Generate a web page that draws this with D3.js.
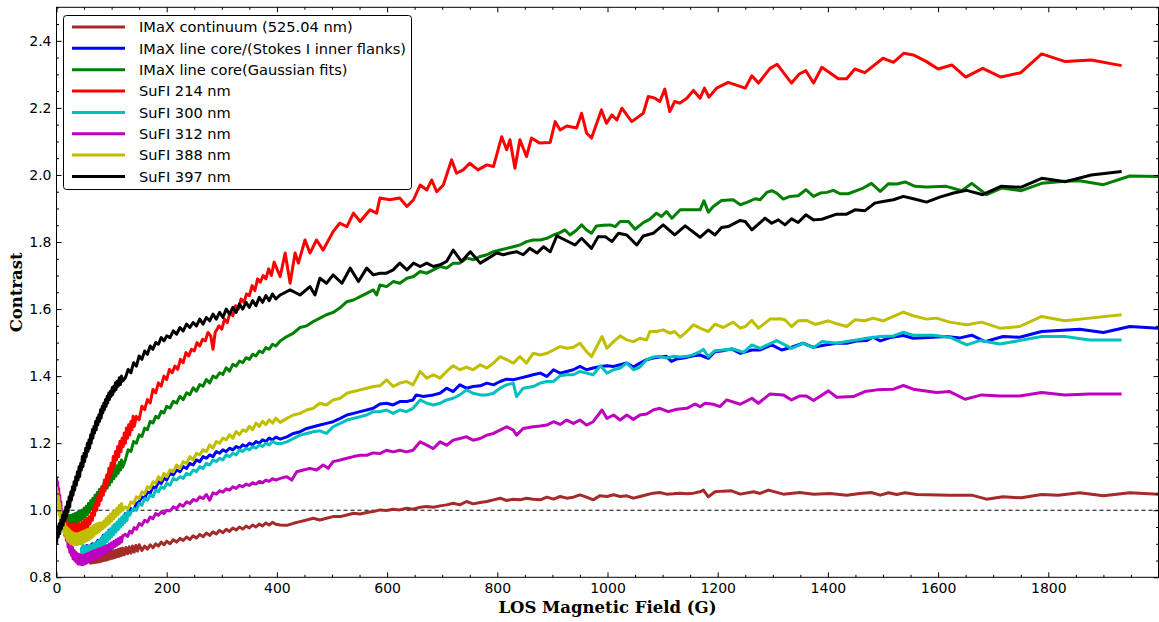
<!DOCTYPE html>
<html>
<head>
<meta charset="utf-8">
<script src="https://cdn.jsdelivr.net/npm/d3@7"></script>
<style>
  body { margin: 0; background: #fff; }
  svg { display: block; }
  .tick line { stroke: #000; stroke-width: 1; }
</style>
</head>
<body>
<script>
// [LOS field (G), contrast]
const continuum = [
  [60,0.865],[62,0.842],[64,0.865],[66,0.843],[68,0.866],[70,0.844],[72,0.867],[74,0.845],[76,0.868],[78,0.846],
  [80,0.869],[82,0.848],[84,0.87],[86,0.85],[88,0.872],[90,0.851],[92,0.873],[94,0.853],[96,0.875],[98,0.855],
  [100,0.877],[102,0.857],[104,0.879],[106,0.859],[108,0.881],[110,0.861],[112,0.883],[114,0.863],[116,0.885],[118,0.865],
  [120,0.887],[123,0.867],[126,0.889],[129,0.87],[132,0.891],[135,0.872],[138,0.893],[141,0.875],[144,0.895],[147,0.878],
  [150,0.897],[155,0.88],[160,0.893],[165,0.884],[170,0.897],[175,0.888],[180,0.90],[185,0.893],[190,0.905],[195,0.897],
  [200,0.908],[206,0.90],[212,0.912],[218,0.905],[224,0.916],[230,0.91],[236,0.92],[242,0.913],[248,0.924],[254,0.917],
  [260,0.928],[266,0.921],[272,0.932],[278,0.925],[284,0.936],[290,0.929],[296,0.94],[302,0.933],[308,0.943],[314,0.937],
  [320,0.947],[326,0.941],[332,0.95],[338,0.944],[344,0.953],[350,0.947],[356,0.956],[362,0.95],[368,0.959],[374,0.953],
  [380,0.962],[386,0.956],[392,0.964],[398,0.958],
  [406,0.956],[418,0.955],[430,0.961],[442,0.966],[454,0.971],[466,0.976],[478,0.971],[490,0.976],[502,0.981],[515,0.981],
  [527,0.986],[539,0.991],[551,0.989],[563,0.993],[575,0.996],[587,1.001],[599,0.999],[611,1.003],[623,1.001],[635,1.006],
  [647,1.003],[660,1.009],[672,1.011],[684,1.009],[696,1.013],[708,1.016],[720,1.021],[732,1.016],[744,1.026],[756,1.019],
  [769,1.023],[781,1.026],[793,1.031],[805,1.036],[817,1.029],[829,1.033],[841,1.031],[853,1.036],[865,1.033],[878,1.031],
  [890,1.039],[902,1.033],[914,1.041],[926,1.036],[938,1.039],[950,1.046],[962,1.039],[974,1.031],[986,1.043],[999,1.041],
  [1011,1.046],[1023,1.041],[1035,1.043],[1047,1.036],[1059,1.041],[1071,1.046],[1083,1.051],[1095,1.053],[1107,1.048],[1119,1.049],
  [1132,1.051],[1144,1.049],[1156,1.051],[1168,1.055],[1174,1.060],[1183,1.040],[1195,1.055],[1210,1.057],[1225,1.058],[1241,1.048],
  [1265,1.055],[1277,1.050],[1292,1.060],[1319,1.048],[1349,1.053],[1374,1.048],[1404,1.050],[1434,1.045],[1458,1.050],[1479,1.053],
  [1495,1.045],[1510,1.052],[1525,1.047],[1540,1.052],[1561,1.047],[1621,1.045],[1661,1.045],[1688,1.033],[1718,1.040],[1751,1.037],
  [1788,1.047],[1818,1.045],[1857,1.052],[1900,1.043],[1948,1.052],[2000,1.048]
];

const lineCoreStokes = [
  [45,0.89],[50,0.885],[55,0.895],[60,0.89],[65,0.90],[70,0.895],[75,0.91],[80,0.905],[85,0.925],[90,0.92],
  [95,0.94],[100,0.935],[105,0.955],[110,0.95],[115,0.97],[120,0.975],[125,0.99],[130,0.985],[135,1.005],[140,1.0],
  [145,1.02],[150,1.025],[155,1.04],[160,1.035],[165,1.055],[170,1.05],[175,1.07],[180,1.065],[185,1.085],[190,1.08],
  [195,1.095],[200,1.09],[206,1.11],[212,1.105],[218,1.12],[224,1.115],[230,1.13],[236,1.125],[242,1.14],[248,1.135],
  [254,1.15],[260,1.145],[266,1.16],[272,1.155],[278,1.165],[284,1.16],[290,1.175],[296,1.17],[302,1.18],[308,1.175],
  [314,1.185],[320,1.18],[326,1.19],[332,1.185],[338,1.195],[344,1.19],[350,1.2],[356,1.195],[362,1.205],[368,1.2],
  [374,1.21],[380,1.205],[386,1.215],[392,1.21],[398,1.218],
  [406,1.212],[418,1.219],[430,1.229],[442,1.234],[454,1.244],[466,1.249],[478,1.254],[490,1.259],[502,1.264],[515,1.274],
  [527,1.284],[539,1.289],[551,1.294],[563,1.299],[575,1.304],[587,1.317],[599,1.319],[611,1.314],[623,1.324],[635,1.324],
  [647,1.329],[653,1.344],[666,1.339],[684,1.344],[696,1.349],[708,1.364],[720,1.354],[732,1.374],[744,1.364],[756,1.369],
  [769,1.371],[781,1.379],[793,1.374],[805,1.384],[817,1.391],[829,1.389],[841,1.394],[853,1.399],[865,1.404],[878,1.409],
  [890,1.399],[902,1.419],[914,1.409],[926,1.414],[938,1.419],[950,1.429],[962,1.419],[974,1.424],[987,1.429],[999,1.431],
  [1011,1.429],[1023,1.434],[1035,1.439],[1047,1.427],[1059,1.439],[1071,1.449],[1083,1.454],[1095,1.457],[1107,1.459],[1116,1.444],
  [1125,1.451],[1138,1.454],[1156,1.461],[1168,1.463],[1183,1.453],[1195,1.473],[1210,1.476],[1225,1.481],[1241,1.468],[1262,1.478],
  [1277,1.478],[1298,1.493],[1316,1.478],[1334,1.486],[1355,1.498],[1374,1.486],[1395,1.493],[1416,1.498],[1434,1.498],[1452,1.505],
  [1470,1.506],[1482,1.516],[1495,1.505],[1513,1.515],[1537,1.521],[1555,1.513],[1591,1.516],[1615,1.518],[1640,1.514],[1661,1.522],
  [1685,1.503],[1718,1.518],[1748,1.516],[1788,1.533],[1857,1.540],[1900,1.530],[1948,1.548],[2000,1.543]
];

const lineCoreGauss = [
  [18,0.985],[20,0.96],[22,0.985],[24,0.958],[26,0.985],[28,0.958],[30,0.987],[32,0.96],[34,0.99],[36,0.962],
  [38,0.993],[40,0.966],[42,0.997],[44,0.97],[46,1.0],[48,0.975],[50,1.006],[52,0.98],[54,1.012],[56,0.987],
  [58,1.02],[60,0.995],[62,1.028],[64,1.003],[66,1.036],[68,1.012],[70,1.045],[72,1.02],[74,1.053],[76,1.03],
  [78,1.062],[80,1.04],[82,1.07],[84,1.048],[86,1.08],[88,1.057],[90,1.09],[92,1.066],[94,1.098],[96,1.075],
  [98,1.107],[100,1.085],[102,1.116],[104,1.094],[106,1.124],[108,1.102],[110,1.133],[112,1.11],[114,1.142],[116,1.12],
  [118,1.15],[120,1.128],[125,1.15],
  [130,1.18],[135,1.175],[140,1.205],[145,1.20],[150,1.225],[155,1.22],
  [160,1.245],[165,1.24],[170,1.265],[175,1.26],[180,1.28],[185,1.275],[190,1.295],[195,1.29],[200,1.31],[206,1.305],
  [212,1.325],[218,1.32],[224,1.34],[230,1.33],[236,1.35],[242,1.345],[248,1.365],[254,1.355],[260,1.375],[266,1.37],
  [272,1.39],[278,1.38],[284,1.40],[290,1.395],[296,1.41],[302,1.405],[308,1.425],[314,1.415],[320,1.435],[326,1.43],
  [332,1.445],[338,1.44],[344,1.455],[350,1.45],[356,1.465],[362,1.46],[368,1.475],[374,1.47],[380,1.485],[386,1.48],
  [392,1.495],[398,1.49],
  [406,1.505],[418,1.518],[430,1.528],[442,1.545],[454,1.55],[466,1.563],[478,1.573],[490,1.583],[502,1.59],[514,1.603],
  [527,1.622],[539,1.627],[551,1.637],[563,1.647],[575,1.657],[581,1.642],[587,1.672],[599,1.667],[611,1.682],[623,1.677],
  [636,1.692],[648,1.697],[660,1.712],[672,1.707],[684,1.717],[696,1.727],[708,1.722],[720,1.737],[732,1.737],[745,1.752],
  [757,1.747],[769,1.757],[781,1.762],[793,1.771],[805,1.776],[817,1.781],[829,1.786],[841,1.791],[853,1.801],[865,1.806],
  [878,1.806],[890,1.811],[902,1.821],[911,1.826],[923,1.836],[932,1.821],[944,1.836],[953,1.851],[962,1.836],[971,1.826],
  [980,1.848],[992,1.850],[1005,1.851],[1014,1.846],[1023,1.861],[1038,1.861],[1050,1.838],[1065,1.858],[1077,1.868],[1089,1.886],
  [1098,1.876],[1107,1.891],[1117,1.871],[1132,1.896],[1147,1.896],[1168,1.896],[1175,1.923],[1183,1.889],[1192,1.906],[1207,1.924],
  [1228,1.926],[1241,1.911],[1253,1.918],[1268,1.929],[1277,1.926],[1289,1.948],[1298,1.953],[1307,1.946],[1319,1.928],[1331,1.936],
  [1346,1.938],[1360,1.956],[1374,1.936],[1386,1.946],[1398,1.948],[1410,1.954],[1422,1.944],[1437,1.944],[1452,1.953],[1464,1.961],
  [1479,1.975],[1495,1.951],[1510,1.974],[1525,1.973],[1540,1.979],[1558,1.966],[1579,1.964],[1615,1.966],[1643,1.953],[1661,1.975],
  [1688,1.941],[1715,1.961],[1751,1.953],[1788,1.975],[1830,1.981],[1857,1.983],[1900,1.971],[1948,1.997],[2000,1.995]
];

const sufi214 = [
  [15,0.98],[17,0.94],[19,0.965],[21,0.935],[23,0.96],[25,0.93],[27,0.955],[29,0.93],[31,0.96],[33,0.93],
  [35,0.955],[37,0.935],[39,0.96],[41,0.935],[43,0.96],[45,0.94],[47,0.965],[49,0.94],[51,0.97],[53,0.945],
  [55,0.975],[57,0.95],[59,0.98],[61,0.96],[63,0.99],[65,0.97],[67,1.005],[69,0.985],[71,1.02],[73,1.0],
  [75,1.04],[77,1.015],[79,1.055],[81,1.03],[83,1.07],[85,1.045],[87,1.09],[89,1.065],[91,1.105],[93,1.08],
  [95,1.125],[97,1.10],[99,1.14],[101,1.115],[103,1.16],[105,1.13],[107,1.175],[109,1.15],[111,1.19],[113,1.16],
  [115,1.205],[117,1.175],[119,1.215],[121,1.19],[123,1.23],[125,1.20],[127,1.245],[129,1.215],[131,1.255],[133,1.225],
  [135,1.265],[137,1.24],[139,1.28],[141,1.25],[145,1.28],[150,1.27],[155,1.31],[160,1.30],
  [165,1.33],[170,1.32],[175,1.36],[180,1.35],[185,1.38],[190,1.37],[195,1.40],[200,1.39],[205,1.42],[210,1.41],
  [215,1.43],[220,1.42],[225,1.45],[230,1.44],[235,1.47],[240,1.46],[245,1.48],[250,1.475],[255,1.50],[260,1.49],
  [265,1.51],[270,1.505],[275,1.53],[280,1.52],[284,1.48],[288,1.53],[295,1.55],[300,1.54],[305,1.57],[310,1.56],
  [315,1.59],[320,1.58],[325,1.61],[330,1.60],[335,1.63],[340,1.62],[345,1.645],[350,1.64],[355,1.67],[360,1.655],
  [365,1.69],[370,1.68],[375,1.70],[380,1.69],[385,1.72],[390,1.70],[395,1.74],[400,1.72],
  [406,1.697],[415,1.767],[424,1.677],[433,1.767],[439,1.737],[451,1.806],[460,1.767],[472,1.806],[484,1.776],[502,1.831],
  [514,1.856],[527,1.846],[539,1.886],[551,1.861],[569,1.896],[581,1.886],[587,1.931],[605,1.926],[623,1.931],[636,1.906],
  [648,1.926],[660,1.970],[672,1.955],[681,1.985],[690,1.950],[702,1.970],[717,2.045],[726,2.005],[738,2.015],[750,2.035],
  [765,2.015],[781,2.030],[793,2.025],[808,2.114],[817,2.075],[823,2.105],[832,2.020],[841,2.105],[853,2.055],[862,2.110],
  [877,2.095],[896,2.097],[905,2.159],[914,2.134],[926,2.146],[944,2.140],[953,2.184],[962,2.125],[971,2.110],[989,2.194],
  [998,2.154],[1008,2.179],[1017,2.164],[1026,2.199],[1044,2.159],[1065,2.184],[1074,2.234],[1086,2.229],[1095,2.219],[1104,2.256],
  [1113,2.189],[1122,2.219],[1131,2.214],[1144,2.229],[1156,2.252],[1168,2.229],[1176,2.259],[1184,2.232],[1198,2.259],[1219,2.276],
  [1250,2.259],[1262,2.296],[1274,2.274],[1295,2.318],[1308,2.330],[1334,2.274],[1348,2.301],[1360,2.311],[1374,2.274],[1389,2.321],
  [1419,2.287],[1434,2.287],[1449,2.316],[1467,2.305],[1500,2.348],[1519,2.336],[1538,2.363],[1555,2.358],[1579,2.338],[1600,2.316],
  [1625,2.328],[1650,2.292],[1681,2.318],[1714,2.292],[1750,2.305],[1788,2.361],[1831,2.338],[1878,2.343],[1933,2.326]
];

const sufi300 = [
  [45,0.89],[46,0.865],[48,0.895],[49,0.865],[51,0.893],[52,0.862],[54,0.892],[55,0.862],[57,0.892],[58,0.862],
  [60,0.893],[61,0.864],[63,0.895],[64,0.866],[66,0.897],[67,0.869],[69,0.90],[70,0.872],[72,0.903],[73,0.876],
  [75,0.907],[76,0.88],[78,0.911],[79,0.885],[81,0.916],[82,0.89],[84,0.921],[85,0.895],[87,0.927],[88,0.90],
  [90,0.932],[92,0.907],[94,0.938],[96,0.914],[98,0.945],[100,0.921],[102,0.952],[104,0.928],[106,0.958],[108,0.935],
  [110,0.965],[112,0.942],[114,0.972],[116,0.95],[118,0.978],[120,0.957],[122,0.984],[124,0.964],[126,0.99],[128,0.97],
  [130,0.996],[133,0.985],[137,1.0],[141,1.005],[145,1.0],[150,1.02],
  [155,1.015],[160,1.035],[165,1.03],[170,1.045],[175,1.04],[180,1.06],[185,1.055],[190,1.07],[195,1.065],[200,1.08],
  [206,1.075],[212,1.095],[218,1.09],[224,1.10],[230,1.095],[236,1.11],[242,1.105],[248,1.12],[254,1.115],[260,1.13],
  [266,1.125],[272,1.14],[278,1.135],[284,1.15],[290,1.145],[296,1.155],[302,1.15],[308,1.165],[314,1.16],[320,1.17],
  [326,1.165],[332,1.18],[338,1.175],[344,1.185],[350,1.18],[356,1.19],[362,1.185],[368,1.195],[374,1.19],[380,1.20],
  [386,1.195],[392,1.205],[398,1.20],
  [406,1.198],[418,1.204],[430,1.214],[442,1.224],[454,1.229],[466,1.234],[478,1.237],[490,1.229],[502,1.249],[515,1.259],
  [527,1.269],[539,1.274],[551,1.279],[563,1.284],[575,1.294],[587,1.294],[599,1.299],[611,1.289],[623,1.299],[635,1.294],
  [647,1.304],[660,1.329],[672,1.319],[684,1.314],[696,1.319],[708,1.329],[720,1.334],[732,1.344],[744,1.359],[756,1.349],
  [769,1.344],[781,1.344],[793,1.349],[805,1.364],[817,1.374],[829,1.379],[835,1.339],[847,1.364],[865,1.369],[878,1.379],
  [890,1.384],[902,1.384],[914,1.401],[926,1.404],[938,1.404],[950,1.414],[962,1.409],[974,1.404],[987,1.431],[999,1.409],
  [1011,1.419],[1023,1.424],[1035,1.439],[1047,1.419],[1059,1.427],[1071,1.449],[1083,1.457],[1095,1.459],[1107,1.454],[1119,1.459],
  [1132,1.457],[1144,1.459],[1156,1.464],[1168,1.473],[1174,1.480],[1183,1.458],[1195,1.476],[1210,1.478],[1228,1.481],[1247,1.471],
  [1262,1.493],[1277,1.483],[1307,1.506],[1334,1.483],[1355,1.498],[1374,1.485],[1389,1.503],[1416,1.498],[1434,1.503],[1452,1.508],
  [1470,1.513],[1495,1.518],[1519,1.520],[1537,1.531],[1555,1.522],[1591,1.522],[1621,1.516],[1652,1.493],[1676,1.506],[1712,1.496],
  [1748,1.506],[1788,1.518],[1830,1.518],[1875,1.508],[1933,1.508]
];

const sufi312 = [
  [0,1.10],[1,1.06],[2,1.085],[3,1.04],[4,1.065],[5,1.02],[6,1.045],[7,1.0],[8,1.025],[9,0.98],
  [10,1.0],[11,0.96],[12,0.985],[13,0.945],[14,0.965],[15,0.925],[17,0.95],[18,0.91],[20,0.93],[21,0.89],
  [23,0.915],[24,0.875],[26,0.90],[27,0.865],[29,0.89],[30,0.855],[32,0.88],[33,0.85],[35,0.875],[36,0.845],
  [38,0.87],[39,0.84],[41,0.868],[42,0.84],[44,0.866],[45,0.838],[47,0.865],[48,0.838],[50,0.866],[51,0.84],
  [53,0.868],[54,0.842],[56,0.87],[57,0.845],[59,0.872],[60,0.848],[62,0.874],[63,0.85],[65,0.877],[66,0.853],
  [68,0.879],[69,0.855],[71,0.88],[72,0.858],[74,0.882],[75,0.86],[77,0.884],[78,0.863],[80,0.886],[82,0.866],
  [84,0.889],[86,0.87],[88,0.892],[90,0.874],[92,0.895],[94,0.878],[96,0.899],[98,0.882],[100,0.903],[102,0.887],
  [104,0.907],[106,0.892],[108,0.911],[110,0.896],[112,0.915],[114,0.90],[116,0.919],[118,0.905],[120,0.923],
  [125,0.928],[129,0.922],[133,0.938],[137,0.932],[141,0.948],[145,0.943],[150,0.96],[155,0.955],[160,0.97],[165,0.965],
  [170,0.98],[175,0.975],[180,0.99],[185,0.985],[190,0.995],[195,0.99],[200,1.0],[206,0.998],[212,1.01],[218,1.005],
  [224,1.018],[230,1.012],[236,1.025],[242,1.02],[248,1.032],[254,1.028],[260,1.04],[266,1.035],[272,1.047],[278,1.03],
  [284,1.052],[290,1.048],[296,1.058],[302,1.054],[308,1.064],[314,1.06],[320,1.07],[326,1.065],[332,1.074],[338,1.07],
  [344,1.078],[350,1.074],[356,1.082],[362,1.078],[368,1.086],[374,1.082],[380,1.09],[386,1.086],[392,1.094],[398,1.09],
  [406,1.095],[418,1.100],[427,1.090],[436,1.115],[448,1.120],[460,1.125],[472,1.120],[484,1.135],[493,1.125],[502,1.145],
  [515,1.150],[527,1.155],[539,1.160],[551,1.164],[563,1.164],[575,1.171],[587,1.169],[599,1.179],[611,1.174],[623,1.179],
  [635,1.174],[647,1.179],[660,1.204],[672,1.194],[684,1.184],[696,1.204],[708,1.194],[720,1.209],[732,1.214],[744,1.219],
  [756,1.209],[769,1.214],[781,1.224],[793,1.229],[805,1.239],[817,1.249],[829,1.239],[835,1.224],[847,1.244],[865,1.249],
  [878,1.251],[890,1.254],[902,1.264],[914,1.256],[926,1.269],[938,1.259],[950,1.269],[962,1.254],[974,1.264],[990,1.299],
  [999,1.274],[1011,1.284],[1023,1.269],[1035,1.284],[1047,1.271],[1059,1.284],[1071,1.287],[1083,1.299],[1095,1.304],[1110,1.294],
  [1126,1.301],[1144,1.304],[1159,1.317],[1168,1.309],[1177,1.319],[1192,1.316],[1204,1.309],[1216,1.329],[1241,1.316],[1262,1.334],
  [1274,1.319],[1295,1.347],[1319,1.344],[1334,1.329],[1349,1.341],[1361,1.341],[1374,1.327],[1401,1.356],[1416,1.337],[1446,1.339],
  [1467,1.354],[1489,1.359],[1519,1.361],[1537,1.372],[1555,1.361],[1597,1.351],[1621,1.354],[1649,1.331],[1679,1.344],[1712,1.341],
  [1748,1.341],[1788,1.351],[1830,1.344],[1875,1.347],[1933,1.347]
];

const sufi388 = [
  [0,1.07],[1,1.02],[2,1.055],[3,1.0],[4,1.04],[5,0.985],[6,1.02],[7,0.97],[8,1.0],[9,0.955],
  [10,0.985],[11,0.94],[12,0.97],[14,0.93],[15,0.96],[17,0.92],[18,0.95],[20,0.91],[21,0.945],[23,0.905],
  [24,0.94],[26,0.90],[27,0.935],[29,0.90],[30,0.932],[32,0.898],[33,0.93],[35,0.898],[36,0.93],[38,0.898],
  [39,0.93],[41,0.9],[42,0.932],[44,0.9],[45,0.934],[47,0.903],[48,0.936],[50,0.905],[51,0.938],[53,0.908],
  [54,0.94],[56,0.91],[57,0.942],[59,0.913],[60,0.945],[62,0.917],[63,0.948],[65,0.92],[66,0.952],[68,0.925],
  [69,0.956],[71,0.93],[72,0.958],[74,0.933],[75,0.96],[77,0.936],[78,0.962],[80,0.94],[82,0.962],[84,0.945],
  [86,0.968],[88,0.95],[90,0.975],[92,0.956],[94,0.982],[96,0.962],[98,0.988],[100,0.968],[102,0.994],[104,0.975],
  [106,1.0],[108,0.982],[110,1.007],[112,0.988],[114,1.014],[116,0.995],[118,1.02],[120,1.0],
  [125,1.01],[130,1.005],[135,1.025],[140,1.02],[145,1.04],[150,1.035],
  [155,1.055],[160,1.05],[165,1.07],[170,1.065],[175,1.085],[180,1.08],[185,1.10],[190,1.09],[195,1.11],[200,1.10],
  [206,1.12],[212,1.115],[218,1.135],[224,1.125],[230,1.145],[236,1.14],[242,1.16],[248,1.15],[254,1.17],[260,1.165],
  [266,1.18],[272,1.175],[278,1.195],[284,1.185],[290,1.205],[296,1.20],[302,1.215],[308,1.21],[314,1.225],[320,1.215],
  [326,1.235],[332,1.225],[338,1.24],[344,1.235],[350,1.25],[356,1.24],[362,1.26],[368,1.25],[374,1.265],[380,1.255],
  [386,1.27],[392,1.26],[398,1.275],
  [406,1.262],[418,1.274],[430,1.284],[442,1.289],[454,1.299],[466,1.304],[478,1.319],[490,1.314],[502,1.329],[515,1.334],
  [527,1.349],[539,1.354],[551,1.359],[563,1.364],[575,1.369],[587,1.371],[599,1.389],[611,1.369],[623,1.379],[635,1.384],
  [647,1.374],[660,1.414],[672,1.394],[684,1.404],[696,1.394],[708,1.414],[720,1.431],[732,1.419],[744,1.427],[756,1.419],
  [769,1.434],[781,1.424],[793,1.439],[805,1.458],[817,1.449],[829,1.439],[841,1.458],[853,1.439],[865,1.468],[878,1.463],
  [890,1.468],[902,1.478],[914,1.488],[926,1.483],[938,1.486],[950,1.498],[962,1.473],[971,1.458],[990,1.518],[999,1.483],
  [1011,1.503],[1023,1.520],[1035,1.508],[1047,1.503],[1059,1.513],[1071,1.508],[1077,1.533],[1089,1.533],[1101,1.538],[1113,1.528],
  [1122,1.533],[1132,1.516],[1144,1.533],[1156,1.553],[1168,1.543],[1183,1.533],[1195,1.555],[1210,1.545],[1228,1.561],[1241,1.543],
  [1250,1.548],[1262,1.566],[1274,1.543],[1295,1.570],[1313,1.571],[1322,1.568],[1334,1.548],[1346,1.565],[1361,1.566],[1377,1.554],
  [1401,1.565],[1416,1.556],[1434,1.548],[1449,1.568],[1467,1.565],[1482,1.573],[1500,1.565],[1537,1.591],[1555,1.580],[1579,1.570],
  [1597,1.573],[1621,1.561],[1652,1.553],[1679,1.561],[1712,1.543],[1748,1.548],[1788,1.578],[1830,1.565],[1875,1.573],[1933,1.583]
];

const sufi397 = [
  [0,0.90],[2,0.95],[3,0.92],[5,0.96],[6,0.93],[8,0.97],[9,0.945],[11,0.985],[12,0.955],[14,0.995],
  [15,0.97],[17,1.01],[18,0.98],[20,1.025],[21,0.995],[23,1.04],[24,1.01],[26,1.055],[27,1.03],[29,1.07],
  [30,1.045],[32,1.085],[33,1.06],[35,1.10],[36,1.075],[38,1.115],[39,1.09],[41,1.13],[42,1.10],[44,1.14],
  [45,1.12],[47,1.16],[48,1.13],[50,1.17],[51,1.145],[53,1.185],[54,1.16],[56,1.20],[57,1.175],[59,1.21],
  [60,1.185],[62,1.225],[63,1.20],[65,1.24],[66,1.215],[68,1.25],[69,1.23],[71,1.265],[72,1.24],[74,1.275],
  [75,1.255],[77,1.285],[78,1.265],[80,1.30],[81,1.275],[83,1.31],[84,1.29],[86,1.32],[87,1.30],[89,1.33],
  [90,1.31],[92,1.34],[93,1.32],[95,1.35],[96,1.33],[98,1.355],[99,1.34],[101,1.365],[102,1.345],[104,1.37],
  [105,1.355],[107,1.38],[108,1.36],[110,1.385],[112,1.37],[114,1.395],[116,1.375],[118,1.40],[120,1.385],
  [125,1.395],[130,1.42],[135,1.41],[140,1.44],[145,1.43],[150,1.46],[155,1.45],[160,1.475],[165,1.465],[170,1.49],
  [175,1.48],[180,1.50],[185,1.495],[190,1.515],[195,1.505],[200,1.52],[206,1.515],[212,1.535],[218,1.525],[224,1.545],
  [230,1.535],[236,1.555],[242,1.545],[248,1.56],[254,1.55],[260,1.57],[266,1.555],[272,1.575],[278,1.565],[284,1.585],
  [290,1.57],[296,1.59],[302,1.575],[308,1.60],[314,1.585],[320,1.605],[326,1.59],[332,1.615],[338,1.60],[344,1.62],
  [350,1.605],[356,1.625],[362,1.61],[368,1.635],[374,1.62],[380,1.64],[386,1.625],[392,1.645],[398,1.63],
  [406,1.642],[424,1.657],[442,1.642],[460,1.667],[469,1.642],[478,1.692],[490,1.677],[502,1.702],[518,1.677],[533,1.722],
  [548,1.682],[563,1.722],[575,1.702],[587,1.707],[599,1.707],[611,1.717],[623,1.737],[636,1.717],[648,1.737],[660,1.727],
  [672,1.737],[684,1.727],[696,1.732],[708,1.742],[720,1.776],[735,1.742],[751,1.771],[769,1.737],[784,1.752],[799,1.767],
  [811,1.762],[823,1.767],[835,1.771],[847,1.762],[859,1.781],[872,1.767],[884,1.786],[896,1.771],[908,1.818],[923,1.806],
  [941,1.791],[953,1.811],[971,1.781],[983,1.816],[996,1.816],[1008,1.801],[1020,1.826],[1035,1.821],[1053,1.791],[1065,1.818],
  [1083,1.826],[1101,1.851],[1122,1.821],[1141,1.848],[1168,1.814],[1183,1.836],[1195,1.821],[1207,1.843],[1219,1.846],[1240,1.864],
  [1250,1.861],[1262,1.836],[1286,1.871],[1298,1.856],[1310,1.866],[1322,1.851],[1334,1.869],[1346,1.858],[1360,1.881],[1374,1.866],
  [1389,1.868],[1416,1.883],[1434,1.883],[1449,1.896],[1467,1.893],[1485,1.916],[1500,1.921],[1519,1.926],[1537,1.936],[1555,1.929],
  [1579,1.919],[1603,1.934],[1628,1.946],[1652,1.954],[1681,1.941],[1714,1.966],[1750,1.963],[1788,1.990],[1831,1.980],[1878,2.000],
  [1933,2.010]
];

const seriesData = [continuum, lineCoreStokes, lineCoreGauss, sufi214, sufi300, sufi312, sufi388, sufi397];
const seriesNames = [
  "IMaX continuum (525.04 nm)",
  "IMaX line core/(Stokes I inner flanks)",
  "IMaX line core(Gaussian fits)",
  "SuFI 214 nm",
  "SuFI 300 nm",
  "SuFI 312 nm",
  "SuFI 388 nm",
  "SuFI 397 nm"
];
const seriesColors = ["#a52a2a", "#0000ff", "#008000", "#ff0000", "#00bfbf", "#bf00bf", "#bfbf00", "#000000"];

const xTicks = [0, 200, 400, 600, 800, 1000, 1200, 1400, 1600, 1800];
const yTicks = [0.8, 1.0, 1.2, 1.4, 1.6, 1.8, 2.0, 2.2, 2.4];

const width = 1159, height = 622;
const plotL = 56.5, plotR = 1158.5, plotT = 7.3, plotB = 577.3;

const svg = d3.select("body").append("svg")
    .attr("width", width)
    .attr("height", height);

const x = d3.scaleLinear().domain([0, 2000]).range([plotL, plotR]);
const y = d3.scaleLinear().domain([0.8, 2.5]).range([plotB, plotT]);

svg.append("defs").append("clipPath").attr("id", "plot")
    .append("rect")
    .attr("x", plotL).attr("y", plotT)
    .attr("width", plotR - plotL).attr("height", plotB - plotT);

// reference line at contrast 1
svg.append("line")
    .attr("x1", plotL).attr("x2", plotR)
    .attr("y1", y(1)).attr("y2", y(1))
    .attr("stroke", "#000")
    .attr("stroke-width", 1)
    .attr("stroke-dasharray", "4,3");

const line = d3.line()
    .x(d => x(d[0]))
    .y(d => y(d[1]));

svg.append("g")
    .attr("clip-path", "url(#plot)")
    .selectAll("path")
    .data(seriesData)
    .join("path")
    .attr("d", line)
    .attr("fill", "none")
    .attr("stroke", (d, i) => seriesColors[i])
    .attr("stroke-width", 3)
    .attr("stroke-linejoin", "round");

//ticks point inward on all four sides
const xMinor = d3.range(0, 2001, 50).filter(v => v % 200 !== 0);
const yMinor = d3.range(16, 51).map(v => v * 0.05).filter((v, i) => (16 + i) % 4 !== 0);

function addAxis(axisFn, scale, pos, values, size, fmt) {
    const g = svg.append("g")
        .attr("transform", pos)
        .call(axisFn(scale)
            .tickValues(values)
            .tickSize(-size)
            .tickPadding(axisFn === d3.axisLeft ? 5 : 6)
            .tickFormat(fmt || ""));
    g.select(".domain").remove();
    g.selectAll("text")
        .attr("fill", "#000")
        .style("font-family", '"DejaVu Sans", sans-serif')
        .style("font-size", "14px");
    return g;
}

addAxis(d3.axisBottom, x, `translate(0,${plotB})`, xTicks, 5, d3.format("d"));
addAxis(d3.axisBottom, x, `translate(0,${plotB})`, xMinor, 2.5);
addAxis(d3.axisTop, x, `translate(0,${plotT})`, xTicks, 5);
addAxis(d3.axisTop, x, `translate(0,${plotT})`, xMinor, 2.5);
addAxis(d3.axisLeft, y, `translate(${plotL},0)`, yTicks, 5, d3.format(".1f"));
addAxis(d3.axisLeft, y, `translate(${plotL},0)`, yMinor, 2.5);
addAxis(d3.axisRight, y, `translate(${plotR},0)`, yTicks, 5);
addAxis(d3.axisRight, y, `translate(${plotR},0)`, yMinor, 2.5);

svg.append("rect")
    .attr("x", plotL).attr("y", plotT)
    .attr("width", plotR - plotL).attr("height", plotB - plotT)
    .attr("fill", "none")
    .attr("stroke", "#000")
    .attr("stroke-width", 1);

// axis titles
svg.append("text")
    .attr("x", (plotL + plotR) / 2)
    .attr("y", 613)
    .attr("text-anchor", "middle")
    .style("font-family", '"DejaVu Serif", serif')
    .style("font-weight", "bold")
    .style("font-size", "16.5px")
    .text("LOS Magnetic Field (G)");

svg.append("text")
    .attr("transform", `translate(22,${(plotT + plotB) / 2}) rotate(-90)`)
    .attr("text-anchor", "middle")
    .style("font-family", '"DejaVu Serif", serif')
    .style("font-weight", "bold")
    .style("font-size", "16.5px")
    .text("Contrast");

// legend
const legend = svg.append("g").attr("transform", "translate(63,15)");
legend.append("rect")
    .attr("x", 0.5).attr("y", 0.5)
    .attr("width", 348).attr("height", 174)
    .attr("rx", 3)
    .attr("fill", "#fff")
    .attr("stroke", "#000")
    .attr("stroke-width", 1);

const rows = legend.selectAll("g.row")
    .data(seriesNames)
    .join("g")
    .attr("class", "row")
    .attr("transform", (d, i) => `translate(0,${12 + i * 21.35})`);

rows.append("line")
    .attr("x1", 9).attr("x2", 62)
    .attr("stroke", (d, i) => seriesColors[i])
    .attr("stroke-width", 3);

rows.append("text")
    .attr("x", 76)
    .attr("dy", "0.36em")
    .style("font-family", '"DejaVu Sans", sans-serif')
    .style("font-size", "14.6px")
    .text(d => d);
</script>
</body>
</html>
